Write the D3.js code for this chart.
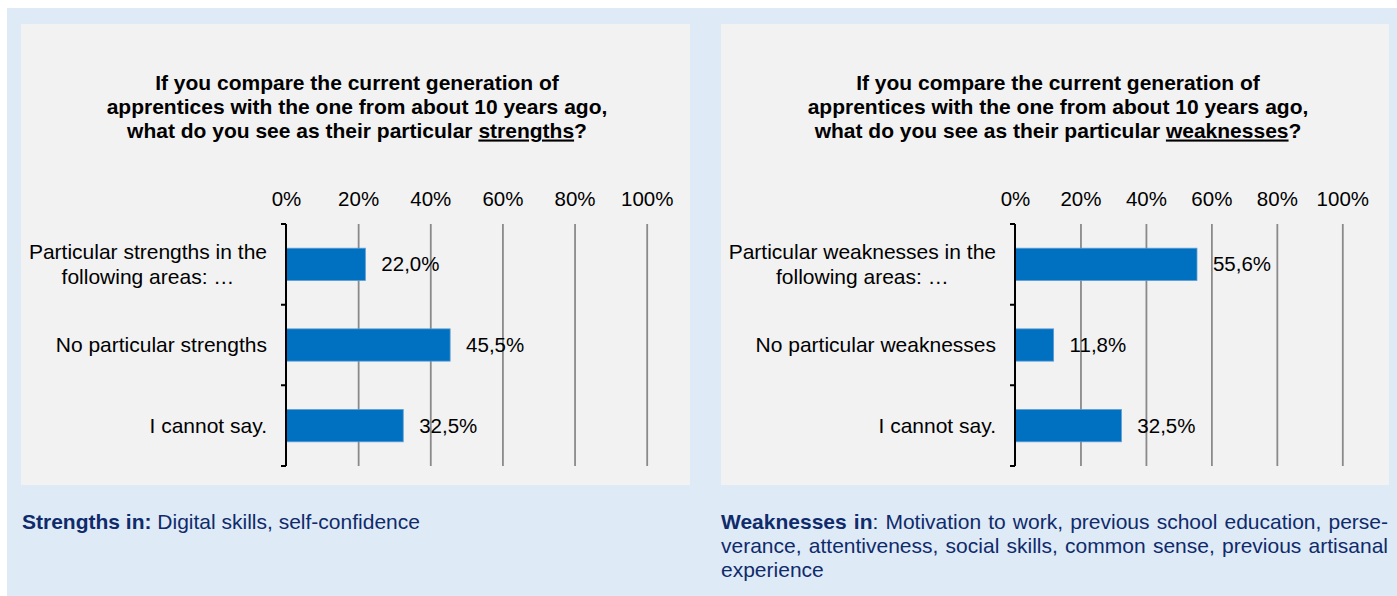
<!DOCTYPE html>
<head>
    <meta charset="utf-8">
    <script src="https://d3js.org/d3.v7.min.js"></script>
    <style>
        body {
            margin: 0;
            background-color: #ffffff;
        }

        text {
            font-family: "Liberation Sans", Arial, sans-serif;
            fill: #000;
        }

        .title {
            font-size: 21px;
            font-weight: bold;
            text-anchor: middle;
        }

        .ticks text {
            font-size: 20.5px;
        }

        .ticks path,
        .ticks line {
            display: none;
        }

        .grid path {
            display: none;
        }

        .grid line {
            stroke: #8a8a8a;
            stroke-width: 1.8px;
        }

        .cat-label {
            font-size: 21px;
            text-anchor: middle;
        }

        .value-label {
            font-size: 20.5px;
        }

        .bar {
            fill: #0070c0;
            stroke: #5b9bd5;
            stroke-width: 0.8px;
        }

        .yaxis {
            stroke: #000;
            stroke-width: 2px;
            fill: none;
        }

        .note text {
            font-size: 21px;
            fill: #0f2b6b;
        }
    </style>
</head>

<body>
    <script>
        var width = 1397,
            height = 596;

        // data
        var tickValues = [0, 20, 40, 60, 80, 100];
        var strengthCategories = [
            ["Particular strengths in the", "following areas: \u2026"],
            ["No particular strengths"],
            ["I cannot say."]
        ];
        var strengthValues = [22.0, 45.5, 32.5];
        var weaknessCategories = [
            ["Particular weaknesses in the", "following areas: \u2026"],
            ["No particular weaknesses"],
            ["I cannot say."]
        ];
        var weaknessValues = [55.6, 11.8, 32.5];

        var deLocale = d3.formatLocale({
            decimal: ",",
            thousands: ".",
            grouping: [3],
            currency: ["", " \u20ac"]
        });
        var fmt = deLocale.format(".1f");

        var svg = d3.select("body").append("svg")
            .attr("width", width)
            .attr("height", height);

        // light blue frame
        svg.append("rect")
            .attr("x", 7)
            .attr("y", 8)
            .attr("width", width - 7)
            .attr("height", height - 8)
            .attr("fill", "#deeaf6");

        function drawChart(opts) {
            var g = svg.append("g");

            g.append("rect")
                .attr("x", opts.panel[0])
                .attr("y", 24)
                .attr("width", opts.panel[1] - opts.panel[0])
                .attr("height", 485 - 24)
                .attr("fill", "#f2f2f2");

            // title
            var title = g.append("text")
                .attr("class", "title")
                .attr("x", opts.titleX)
                .attr("y", 89.5);
            title.append("tspan")
                .attr("x", opts.titleX)
                .text("If you compare the current generation of");
            title.append("tspan")
                .attr("x", opts.titleX)
                .attr("dy", 24)
                .text("apprentices with the one from about 10 years ago,");
            title.append("tspan")
                .attr("x", opts.titleX)
                .attr("dy", 24)
                .text("what do you see as their particular ");
            title.append("tspan")
                .style("text-decoration", "underline")
                .text(opts.keyword);
            title.append("tspan")
                .text("?");

            var x = d3.scaleLinear()
                .domain([0, 100])
                .range([opts.x0, opts.x0 + opts.w]);

            var y = d3.scaleBand()
                .domain(d3.range(opts.values.length))
                .range([224, 466])
                .paddingInner(0.6)
                .paddingOuter(0.3);

            // gridlines
            g.append("g")
                .attr("class", "grid")
                .attr("transform", "translate(0,224)")
                .call(d3.axisBottom(x)
                    .tickValues(tickValues.slice(1))
                    .tickSize(242)
                    .tickFormat(""));

            // tick labels on top
            g.append("g")
                .attr("class", "ticks")
                .attr("transform", "translate(0,205.5)")
                .call(d3.axisTop(x)
                    .tickValues(tickValues)
                    .tickSize(0)
                    .tickPadding(0)
                    .tickFormat(function(d) {
                        return d + "%";
                    }))
                .selectAll("text")
                .attr("font-family", null)
                .attr("font-size", null);

            // bars
            g.selectAll(".bar")
                .data(opts.values)
                .enter().append("rect")
                .attr("class", "bar")
                .attr("x", x(0))
                .attr("y", function(d, i) {
                    return y(i);
                })
                .attr("width", function(d) {
                    return x(d) - x(0);
                })
                .attr("height", y.bandwidth());

            // value labels
            g.selectAll(".value-label")
                .data(opts.values)
                .enter().append("text")
                .attr("class", "value-label")
                .attr("x", function(d) {
                    return x(d) + 16;
                })
                .attr("y", function(d, i) {
                    return y(i) + y.bandwidth() / 2 + 7;
                })
                .text(function(d) {
                    return fmt(d) + "%";
                });

            // category axis with ticks between categories
            var step = y.step();
            var bounds = d3.range(opts.values.length + 1).map(function(i) {
                return 224 + i * step;
            });
            var p = d3.path();
            p.moveTo(x(0), 224);
            p.lineTo(x(0), 466);
            bounds.forEach(function(b) {
                p.moveTo(x(0) - 5, b);
                p.lineTo(x(0), b);
            });
            g.append("path")
                .attr("class", "yaxis")
                .attr("d", p.toString());

            // category labels, multi-line labels centred as a block
            g.selectAll(".cat-label")
                .data(opts.categories)
                .enter().append("text")
                .attr("class", "cat-label")
                .each(function(lines, i) {
                    var t = d3.select(this);
                    var cy = y(i) + y.bandwidth() / 2;
                    var first = cy + 7 - (lines.length - 1) * 12.2;
                    lines.forEach(function(s, j) {
                        t.append("tspan")
                            .attr("x", 0)
                            .attr("y", first + j * 24.4)
                            .text(s);
                    });
                    var w = this.getBBox().width;
                    t.selectAll("tspan").attr("x", x(0) - 19 - w / 2);
                });
        }

        drawChart({
            panel: [21, 690],
            titleX: 357,
            keyword: "strengths",
            x0: 286,
            w: 360.7,
            values: strengthValues,
            categories: strengthCategories
        });

        drawChart({
            panel: [721, 1389],
            titleX: 1058,
            keyword: "weaknesses",
            x0: 1015,
            w: 327.3,
            values: weaknessValues,
            categories: weaknessCategories
        });

        // notes below the charts
        var notes = svg.append("g").attr("class", "note");

        var n1 = notes.append("text")
            .attr("x", 22)
            .attr("y", 528.5);
        n1.append("tspan").attr("font-weight", "bold").text("Strengths in:");
        n1.append("tspan").text(" Digital skills, self-confidence");

        var noteLines = [
            [["Weaknesses in", true], [": Motivation to work, previous school education, perse-", false]],
            [["verance, attentiveness, social skills, common sense, previous artisanal", false]],
            [["experience", false]]
        ];
        noteLines.forEach(function(parts, i) {
            var t = notes.append("text")
                .attr("x", 721)
                .attr("y", 528.5 + i * 24);
            parts.forEach(function(pt) {
                t.append("tspan")
                    .attr("font-weight", pt[1] ? "bold" : null)
                    .text(pt[0]);
            });
            // justify every line but the last
            if (i < noteLines.length - 1) {
                var natural = t.node().getComputedTextLength();
                var txt = parts.map(function(pt) { return pt[0]; }).join("");
                var spaces = txt.split(" ").length - 1;
                t.attr("word-spacing", (1388 - 721 - natural) / spaces);
            }
        });
    </script>
</body>
